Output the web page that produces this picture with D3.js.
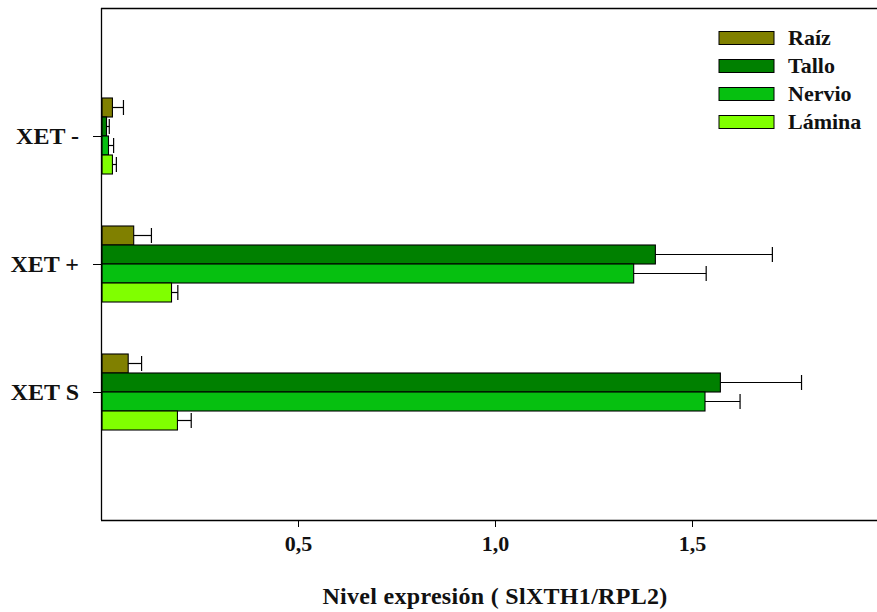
<!DOCTYPE html>
<html>
<head>
<meta charset="utf-8">
<script src="https://cdn.jsdelivr.net/npm/d3@7"></script>
<style>
  body { margin: 0; background: #fff; }
</style>
</head>
<body>
<svg id="chart" width="877" height="612"></svg>
<script>
// data
var categories = ["XET -", "XET +", "XET S"];
var series = ["Raíz", "Tallo", "Nervio", "Lámina"];
var colors = ["#808000", "#008000", "#06c010", "#80ff00"];
// mean values per category, one array per series
var raiz   = [0.029, 0.083, 0.069];
var tallo  = [0.014, 1.407, 1.572];
var nervio = [0.019, 1.352, 1.533];
var lamina = [0.029, 0.179, 0.194];
// upper end of the error bars
var raizErr   = [0.057, 0.128, 0.103];
var talloErr  = [0.021, 1.704, 1.778];
var nervioErr = [0.032, 1.536, 1.622];
var laminaErr = [0.039, 0.195, 0.229];
var xTicks = [0.5, 1.0, 1.5];

var values = [raiz, tallo, nervio, lamina];
var errs = [raizErr, talloErr, nervioErr, laminaErr];
var serif = "'Liberation Serif', 'Times New Roman', serif";

var svg = d3.select("#chart"),
    mLeft = 101, mTop = 8, mBottom = 520, mRight = 877;

var x = d3.scaleLinear().domain([0, 2]).range([mLeft, mLeft + 2 * 394]);
var y = d3.scalePoint().domain(categories).range([mTop, mBottom]).padding(1);
var barH = 19;
var inner = d3.scaleBand().domain(series).range([-2 * barH, 2 * barH]);

// top frame line
svg.append("line").attr("x1", mLeft).attr("x2", mRight).attr("y1", mTop + 0.5).attr("y2", mTop + 0.5)
    .attr("stroke", "#000").attr("stroke-width", 1.3);

// bars
var groups = svg.selectAll(".grp").data(categories).enter().append("g")
    .attr("class", "grp")
    .attr("transform", function (d) { return "translate(0," + y(d) + ")"; });

series.forEach(function (s, si) {
    groups.append("rect")
        .attr("x", x(0) + 1)
        .attr("y", inner(s))
        .attr("width", function (d, ci) { return x(values[si][ci]) - x(0) - 1; })
        .attr("height", inner.bandwidth())
        .attr("fill", colors[si])
        .attr("stroke", "#000").attr("stroke-width", 1.1);
    // error bar
    groups.append("line")
        .attr("x1", function (d, ci) { return x(values[si][ci]); })
        .attr("x2", function (d, ci) { return x(errs[si][ci]); })
        .attr("y1", inner(s) + barH / 2).attr("y2", inner(s) + barH / 2)
        .attr("stroke", "#000").attr("stroke-width", 1.2);
    groups.append("line")
        .attr("x1", function (d, ci) { return x(errs[si][ci]); })
        .attr("x2", function (d, ci) { return x(errs[si][ci]); })
        .attr("y1", inner(s) + barH / 2 - 7.5).attr("y2", inner(s) + barH / 2 + 7.5)
        .attr("stroke", "#000").attr("stroke-width", 1.2);
});

// axes
var xAxis = svg.append("g").attr("transform", "translate(0," + mBottom + ")")
    .call(d3.axisBottom(x).tickValues(xTicks).tickSize(7).tickPadding(8)
        .tickFormat(function (d) { return d3.format(".1f")(d).replace(".", ","); }));
xAxis.select(".domain").attr("d", "M" + mLeft + ",0.5H" + mRight).attr("stroke-width", 1.3);
xAxis.selectAll("text").attr("font-size", 22).attr("fill", "#111")
    .style("font-family", serif).style("font-weight", "bold");

var yAxis = svg.append("g").attr("transform", "translate(" + mLeft + ",0)")
    .call(d3.axisLeft(y).tickSize(8).tickPadding(14));
yAxis.select(".domain").attr("d", "M0.5," + mTop + "V" + mBottom).attr("stroke-width", 1.3);
yAxis.selectAll("text").attr("font-size", 24).attr("fill", "#111")
    .style("font-family", serif).style("font-weight", "bold");

// axis title
svg.append("text").attr("x", 495).attr("y", 604).attr("text-anchor", "middle")
    .attr("font-size", 24).attr("letter-spacing", 0.3).attr("fill", "#111")
    .style("font-family", serif).style("font-weight", "bold")
    .text("Nivel expresión ( SlXTH1/RPL2)");

// legend
var legend = svg.selectAll(".leg").data(series).enter().append("g")
    .attr("transform", function (d, i) { return "translate(719," + (38 + i * 28) + ")"; });
legend.append("rect").attr("x", 0).attr("y", -6.5).attr("width", 55).attr("height", 13)
    .attr("fill", function (d, i) { return colors[i]; })
    .attr("stroke", "#000").attr("stroke-width", 1);
legend.append("text").attr("x", 69).attr("y", 7).attr("font-size", 22).attr("fill", "#111")
    .style("font-family", serif).style("font-weight", "bold")
    .text(function (d) { return d; });
</script>
</body>
</html>
